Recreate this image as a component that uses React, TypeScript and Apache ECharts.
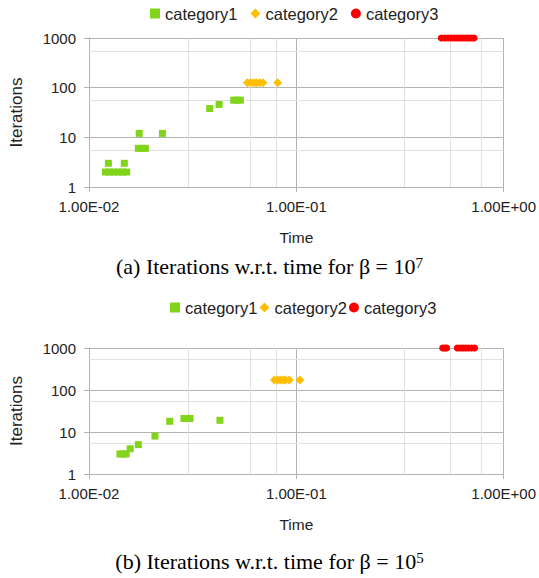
import React, { useEffect, useRef } from "react";
import * as echarts from "echarts";

// ---- data ----
const categories = ["category1", "category2", "category3"];
const colors = ["#81D41A", "#FFBF00", "#FF0000"];
const xTickLabels = ["1.00E-02", "1.00E-01", "1.00E+00"];
const yTickLabels = ["1", "10", "100", "1000"];

// (a) beta = 1e7
const cat1A: number[][] = [
  [0.0124, 3], [0.0148, 3],
  [0.012, 2], [0.0126, 2], [0.0132, 2], [0.0139, 2], [0.0145, 2], [0.0152, 2],
  [0.01746, 12], [0.0226, 12],
  [0.0173, 6], [0.018, 6], [0.0187, 6],
  [0.0382, 38], [0.0424, 46],
  [0.0499, 56], [0.0517, 56], [0.0537, 56],
];
const cat2A: number[][] = [
  [0.058, 125], [0.06, 125], [0.062, 125], [0.064, 125], [0.0665, 125], [0.069, 125], [0.0813, 125],
];
const cat3A: number[][] = [
  [0.5, 1000], [0.52, 1000], [0.54, 1000], [0.56, 1000], [0.58, 1000], [0.6, 1000],
  [0.62, 1000], [0.64, 1000], [0.66, 1000], [0.68, 1000], [0.7, 1000], [0.72, 1000],
];

// (b) beta = 1e5
const cat1B: number[][] = [
  [0.0141, 3], [0.0146, 3], [0.0151, 3], [0.0158, 4], [0.0173, 5], [0.0208, 8],
  [0.0245, 18], [0.0287, 21], [0.0297, 21], [0.0307, 21], [0.0428, 19],
];
const cat2B: number[][] = [
  [0.0784, 172], [0.081, 172], [0.0835, 172], [0.086, 172], [0.0885, 172], [0.0925, 172], [0.104, 172],
];
const cat3B: number[][] = [
  [0.508, 1000], [0.52, 1000], [0.531, 1000],
  [0.597, 1000], [0.615, 1000], [0.635, 1000], [0.655, 1000], [0.675, 1000], [0.7, 1000], [0.724, 1000],
];

// minor grid positions
const minorX = [0.0325, 0.055, 0.0775, 0.325, 0.55, 0.775];
const minorY = [5.5, 55, 550];

const captions = [
  { main: "(a) Iterations w.r.t. time for β = 10", sup: "7" },
  { main: "(b) Iterations w.r.t. time for β = 10", sup: "5" },
];

const FONT = "Liberation Sans, Arial, sans-serif";
const SERIF = "Liberation Serif, Times New Roman, serif";
const TEXT = "#222";
const MAJOR = "#b3b3b3";
const MINOR = "#e0e0e0";

export default function App() {
  const ref = useRef<HTMLDivElement>(null);
  useEffect(() => {
    if (!ref.current) return;
    const chart = echarts.init(ref.current, null, { renderer: "svg" });

    const grids = [
      { left: 88, top: 38, width: 417, height: 149 },
      { left: 88, top: 348, width: 417, height: 126 },
    ];

    const xAxis = grids.map((_, i) => ({
      type: "log",
      logBase: 10,
      gridIndex: i,
      min: 0.01,
      max: 1,
      axisLine: { show: true, lineStyle: { color: MAJOR } },
      axisTick: { show: true, length: 5, lineStyle: { color: MAJOR } },
      axisLabel: {
        fontSize: 15,
        color: TEXT,
        fontFamily: FONT,
        margin: 12,
        showMaxLabel: true,
        showMinLabel: true,
        formatter: (v: number) => xTickLabels[Math.round(Math.log10(v)) + 2] ?? "",
      },
      splitLine: { show: true, lineStyle: { color: MAJOR } },
      name: "Time",
      nameLocation: "middle",
      nameGap: 42,
      nameTextStyle: { fontSize: 15.5, color: TEXT, fontFamily: FONT },
    }));

    const yAxis = grids.map((_, i) => ({
      type: "log",
      logBase: 10,
      gridIndex: i,
      min: 1,
      max: 1000,
      axisLine: { show: true, lineStyle: { color: MAJOR } },
      axisTick: { show: true, length: 5, lineStyle: { color: MAJOR } },
      axisLabel: {
        fontSize: 15,
        color: TEXT,
        fontFamily: FONT,
        margin: 13,
        formatter: (v: number) => yTickLabels[Math.round(Math.log10(v))] ?? "",
      },
      splitLine: { show: true, lineStyle: { color: MAJOR } },
      name: "Iterations",
      nameLocation: "middle",
      nameGap: 64,
      nameTextStyle: { fontSize: 17, color: TEXT, fontFamily: FONT },
    }));

    const symbols = ["rect", "diamond", "circle"];
    const sizes = [7, 9, 7];
    const sets = [
      [cat1A, cat2A, cat3A],
      [cat1B, cat2B, cat3B],
    ];

    const series: any[] = [];
    sets.forEach((set, gi) => {
      series.push({
        type: "scatter",
        name: "minor" + gi,
        xAxisIndex: gi,
        yAxisIndex: gi,
        data: [],
        silent: true,
        markLine: {
          z: 1,
          silent: true,
          symbol: "none",
          animation: false,
          label: { show: false },
          lineStyle: { type: "solid", color: MINOR, width: 1 },
          data: [
            ...minorX.map((x) => ({ xAxis: x })),
            ...minorY.map((y) => ({ yAxis: y })),
          ],
        },
      });
      set.forEach((d, ci) => {
        series.push({
          type: "scatter",
          name: categories[ci],
          xAxisIndex: gi,
          yAxisIndex: gi,
          symbol: symbols[ci],
          symbolSize: sizes[ci],
          itemStyle: { color: colors[ci], opacity: 1 },
          z: 3,
          data: d,
        });
      });
    });

    const legendData = categories.map((c, i) => ({ name: c, icon: symbols[i] }));
    const legendBase = {
      itemWidth: 10,
      itemHeight: 10,
      padding: 0,
      textStyle: { fontSize: 16.5, color: TEXT, fontFamily: FONT },
      data: legendData,
      selectedMode: false,
    };

    chart.setOption({
      animation: false,
      backgroundColor: "#ffffff",
      grid: grids,
      xAxis,
      yAxis,
      legend: [
        { ...legendBase, left: 150, top: 5, itemGap: 13 },
        { ...legendBase, left: 170, top: 299, itemGap: 2 },
      ],
      series,
      graphic: captions.map((c, i) => ({
        type: "text",
        left: "center",
        top: i === 0 ? 255 : 550,
        style: {
          text: c.main + "{s|" + c.sup + "}",
          fontSize: 22,
          fontFamily: SERIF,
          fill: "#000",
          rich: {
            s: { fontSize: 15, fontFamily: SERIF, verticalAlign: "top", lineHeight: 14, fill: "#000" },
          },
        },
      })),
    });

    return () => chart.dispose();
  }, []);

  return (
    <div
      ref={ref}
      style={{ position: "fixed", left: 0, top: 0, width: 539, height: 578, background: "#fff" }}
    />
  );
}
